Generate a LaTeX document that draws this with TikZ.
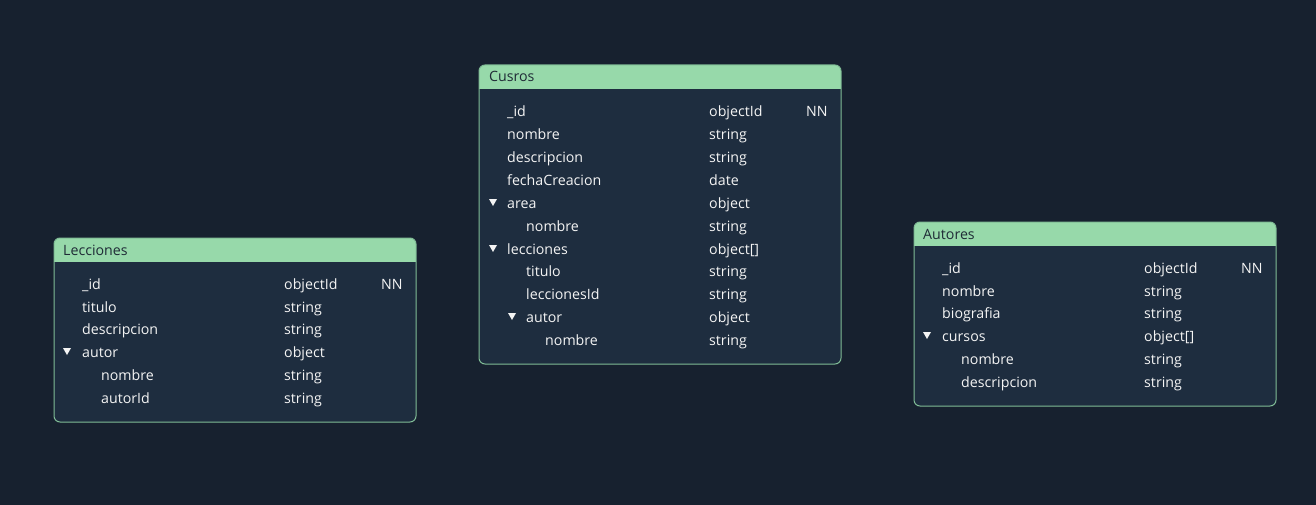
\documentclass[tikz,border=0pt]{standalone}
\usepackage{fontspec}
\setmainfont{Open Sans}
\definecolor{bg}{HTML}{17212F}
\definecolor{body}{HTML}{1E2D3F}
\definecolor{hdr}{HTML}{97D9AA}
\definecolor{bord}{HTML}{80BC96}
\definecolor{txt}{HTML}{F4F4F4}
\definecolor{hdrtxt}{HTML}{1F2B36}
\tikzset{
  fld/.style={anchor=base west, text=txt, inner sep=0pt, font=\fontsize{14.2}{16}\selectfont},
  ttl/.style={anchor=base west, text=hdrtxt, inner sep=0pt, font=\fontsize{14.2}{16}\selectfont},
  boxfill/.style={fill=body, rounded corners=6pt},
  boxline/.style={draw=bord, line width=1pt, rounded corners=6pt},
  tri/.style={fill=txt},
}
% #1 left, #2 top, #3 bottom
\newcommand\entbox[3]{%
  \fill[boxfill] (#1,#2) rectangle (#1+362,#3);
  \begin{scope}
    \clip[rounded corners=6pt] (#1,#2) rectangle (#1+362,#3);
    \fill[hdr] (#1,#2) rectangle (#1+362,#2+24);
  \end{scope}
  \draw[boxline] (#1,#2) rectangle (#1+362,#3);
}
% #1 id, #2 name x, #3 type x, #4 row y, #5 name, #6 type
\newcommand\fieldrow[6]{%
  \node[fld] (#1n) at (#2,#4+5.5) {#5};
  \node[fld] (#1t) at (#3,#4+5.5) {#6};
}
% #1 x, #2 row y
\newcommand\tridown[2]{%
  \fill[tri] (#1,#2-4) -- (#1+8,#2-4) -- (#1+4,#2+3) -- cycle;
}
\begin{document}
\begin{tikzpicture}[x=1pt,y=-1pt]
\useasboundingbox (0,0) rectangle (1316,505);
\fill[bg] (0,0) rectangle (1316,505);

% ---------- Cusros ----------
\entbox{479}{65}{364}
\node[ttl] (cusros) at (489,81.5) {Cusros};
\fieldrow{c1}{507}{709}{111}{\_id}{objectId}
\node[fld] (c1nn) at (806,116.5) {NN};
\fieldrow{c2}{507}{709}{134}{nombre}{string}
\fieldrow{c3}{507}{709}{157}{descripcion}{string}
\fieldrow{c4}{507}{709}{180}{fechaCreacion}{date}
\tridown{489}{203}
\fieldrow{c5}{507}{709}{203}{area}{object}
\fieldrow{c6}{526}{709}{226}{nombre}{string}
\tridown{489}{249}
\fieldrow{c7}{507}{709}{249}{lecciones}{object[]}
\fieldrow{c8}{526}{709}{271}{titulo}{string}
\fieldrow{c9}{526}{709}{294}{leccionesId}{string}
\tridown{508}{317}
\fieldrow{c10}{526}{709}{317}{autor}{object}
\fieldrow{c11}{545}{709}{340}{nombre}{string}

% ---------- Lecciones ----------
\entbox{54}{238}{422}
\node[ttl] (lecciones) at (63,255.5) {Lecciones};
\fieldrow{l1}{82}{284}{284}{\_id}{objectId}
\node[fld] (l1nn) at (381,289.5) {NN};
\fieldrow{l2}{82}{284}{307}{titulo}{string}
\fieldrow{l3}{82}{284}{329}{descripcion}{string}
\tridown{63}{352}
\fieldrow{l4}{82}{284}{352}{autor}{object}
\fieldrow{l5}{101}{284}{375}{nombre}{string}
\fieldrow{l6}{101}{284}{398}{autorId}{string}

% ---------- Autores ----------
\entbox{914}{222}{406}
\node[ttl] (autores) at (923,239.5) {Autores};
\fieldrow{a1}{942}{1144}{268}{\_id}{objectId}
\node[fld] (a1nn) at (1241,273.5) {NN};
\fieldrow{a2}{942}{1144}{291}{nombre}{string}
\fieldrow{a3}{942}{1144}{313}{biografia}{string}
\tridown{923}{336}
\fieldrow{a4}{942}{1144}{336}{cursos}{object[]}
\fieldrow{a5}{961}{1144}{359}{nombre}{string}
\fieldrow{a6}{961}{1144}{382}{descripcion}{string}
\end{tikzpicture}
\end{document}
